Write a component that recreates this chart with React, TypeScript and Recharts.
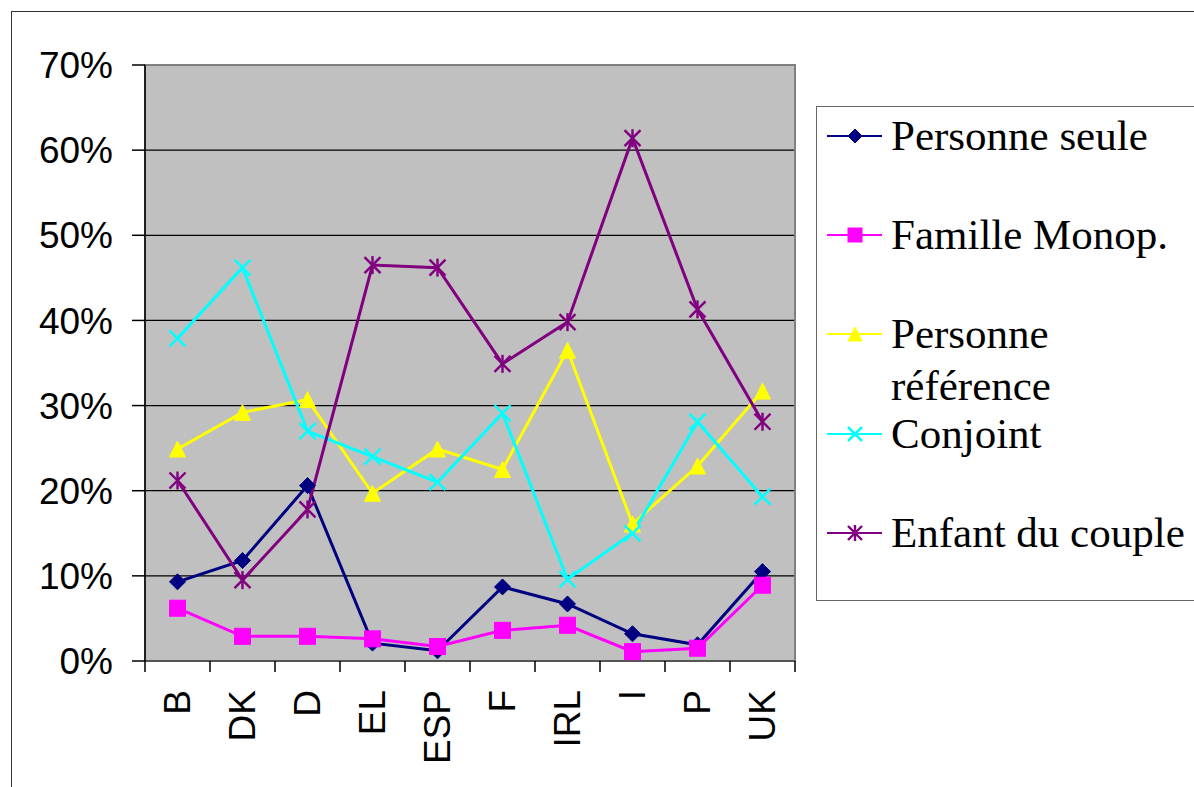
import React from 'react';
import { LineChart, Line, XAxis, YAxis, CartesianGrid, ReferenceArea } from 'recharts';

const COUNTRIES = ['B', 'DK', 'D', 'EL', 'ESP', 'F', 'IRL', 'I', 'P', 'UK'];
const PERSONNE_SEULE = [9.3, 11.8, 20.6, 2.1, 1.2, 8.7, 6.7, 3.2, 1.9, 10.5];
const FAMILLE_MONOP = [6.2, 2.9, 2.9, 2.6, 1.7, 3.6, 4.2, 1.1, 1.5, 8.9];
const PERSONNE_REF = [24.9, 29.2, 30.7, 19.7, 24.9, 22.5, 36.5, 16.1, 22.9, 31.7];
const CONJOINT = [37.9, 46.2, 27.0, 24.0, 21.0, 29.1, 9.6, 15.0, 28.1, 19.3];
const ENFANT = [21.2, 9.5, 17.8, 46.5, 46.2, 34.9, 39.8, 61.4, 41.3, 28.1];
const Y_TICKS = [0, 10, 20, 30, 40, 50, 60, 70];

const SERIES = [
  { key: 'seule', name: 'Personne seule', color: '#000080', shape: 'diamond', values: PERSONNE_SEULE },
  { key: 'monop', name: 'Famille Monop.', color: '#FF00FF', shape: 'square', values: FAMILLE_MONOP },
  { key: 'ref', name: 'Personne référence', color: '#FFFF00', shape: 'triangle', values: PERSONNE_REF },
  { key: 'conj', name: 'Conjoint', color: '#00FFFF', shape: 'x', values: CONJOINT },
  { key: 'enf', name: 'Enfant du couple', color: '#800080', shape: 'star', values: ENFANT },
];

const SANS = '"Liberation Sans", Arial, sans-serif';
const SERIF = '"Liberation Serif", "Times New Roman", serif';

function Marker({ shape, color, cx, cy, s = 8 }: any) {
  if (cx == null || cy == null) return null;
  if (shape === 'diamond') {
    return <polygon points={`${cx},${cy - s} ${cx + s},${cy} ${cx},${cy + s} ${cx - s},${cy}`} fill={color} stroke={color} strokeWidth={1} />;
  }
  if (shape === 'square') {
    return <rect x={cx - s} y={cy - s} width={2 * s} height={2 * s} fill={color} stroke={color} strokeWidth={1} />;
  }
  if (shape === 'triangle') {
    return <polygon points={`${cx},${cy - s} ${cx + s},${cy + s} ${cx - s},${cy + s}`} fill={color} stroke={color} strokeWidth={1} />;
  }
  if (shape === 'x') {
    return (
      <g stroke={color} strokeWidth={2.5}>
        <line x1={cx - s} y1={cy - s} x2={cx + s} y2={cy + s} />
        <line x1={cx - s} y1={cy + s} x2={cx + s} y2={cy - s} />
      </g>
    );
  }
  return (
    <g stroke={color} strokeWidth={2.4}>
      <line x1={cx - s} y1={cy - s} x2={cx + s} y2={cy + s} />
      <line x1={cx - s} y1={cy + s} x2={cx + s} y2={cy - s} />
      <line x1={cx} y1={cy - s - 1} x2={cx} y2={cy + s + 1} />
    </g>
  );
}

function XTick(props: any) {
  const { x, y, payload, index, width } = props;
  const half = payload && payload.offset ? payload.offset : (width ? width / COUNTRIES.length / 2 : 0);
  const ty = y + 29;
  return (
    <g>
      <line x1={x - half} x2={x - half} y1={y} y2={y + 11} stroke="#000" strokeWidth={1.5} />
      {index === COUNTRIES.length - 1 && (
        <line x1={x + half} x2={x + half} y1={y} y2={y + 11} stroke="#000" strokeWidth={1.5} />
      )}
      <text
        x={x}
        y={ty}
        transform={`rotate(-90 ${x} ${ty})`}
        textAnchor="end"
        dominantBaseline="central"
        fontSize={37}
        fontFamily={SANS}
        fill="#000"
      >
        {payload.value}
      </text>
    </g>
  );
}

function LegendBox() {
  return (
    <div
      style={{
        position: 'absolute',
        left: 816,
        top: 106,
        width: 420,
        height: 495,
        border: '1.5px solid #666',
        background: '#fff',
        boxSizing: 'border-box',
      }}
    >
      {SERIES.map((s, i) => (
        <div
          key={s.key}
          style={{ position: 'absolute', left: 0, top: 29 + i * 99.2 - 26, display: 'flex', alignItems: 'flex-start' }}
        >
          <svg width={72} height={52} style={{ flex: 'none' }}>
            <line x1={10} x2={65} y1={26} y2={26} stroke={s.color} strokeWidth={2} />
            <Marker shape={s.shape} color={s.color} cx={38} cy={26} s={7} />
          </svg>
          <div
            style={{
              marginLeft: 2,
              width: 300,
              fontFamily: SERIF,
              fontSize: 43,
              lineHeight: '52px',
              color: '#000',
              whiteSpace: s.key === 'ref' ? 'normal' : 'nowrap',
            }}
          >
            {s.name}
          </div>
        </div>
      ))}
    </div>
  );
}

export default function App() {
  const data = COUNTRIES.map((c, i) => {
    const row: any = { name: c };
    SERIES.forEach((s) => {
      row[s.key] = s.values[i];
    });
    return row;
  });

  return (
    <div style={{ position: 'fixed', left: 0, top: 0, width: 1194, height: 787, overflow: 'hidden', background: '#fff' }}>
      <div
        style={{
          position: 'absolute',
          left: 11,
          top: 11,
          width: 1300,
          height: 900,
          border: '1.5px solid #333',
        }}
      />
      <div style={{ position: 'absolute', left: 0, top: 0 }}>
        <LineChart width={1194} height={787} data={data} margin={{ top: 65, right: 399, bottom: 0, left: 0 }}>
          <CartesianGrid vertical={false} stroke="#000" strokeWidth={1.2} fill="#c0c0c0" fillOpacity={1} />
          <ReferenceArea y1={0} y2={70} fill="none" stroke="#808080" strokeWidth={2} />
          <XAxis
            dataKey="name"
            scale="band"
            interval={0}
            height={126}
            tickLine={false}
            tickSize={0}
            tickMargin={0}
            axisLine={{ stroke: '#555', strokeWidth: 2 }}
            tick={<XTick />}
          />
          <YAxis
            domain={[0, 70]}
            ticks={Y_TICKS}
            width={145}
            interval={0}
            tickSize={13}
            tickMargin={19}
            tickFormatter={(v: number) => `${v}%`}
            tick={{ fontSize: 37, fill: '#000', fontFamily: SANS }}
            axisLine={{ stroke: '#000', strokeWidth: 1.5 }}
            tickLine={{ stroke: '#000', strokeWidth: 1.5 }}
          />
          {SERIES.map((s) => (
            <Line
              key={s.key}
              dataKey={s.key}
              name={s.name}
              type="linear"
              stroke={s.color}
              strokeWidth={3}
              isAnimationActive={false}
              dot={(p: any) => <Marker key={`${s.key}-${p.index}`} shape={s.shape} color={s.color} cx={p.cx} cy={p.cy} />}
              activeDot={false}
            />
          ))}
        </LineChart>
      </div>
      <LegendBox />
    </div>
  );
}
